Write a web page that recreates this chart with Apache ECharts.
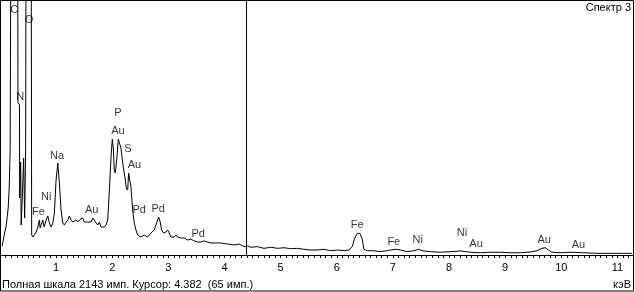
<!DOCTYPE html>
<html><head><meta charset="utf-8">
<script src="https://cdn.jsdelivr.net/npm/echarts@6/dist/echarts.min.js"></script>
<style>html,body{margin:0;padding:0;background:#fff;overflow:hidden}#c{width:700px;height:292px}</style>
</head><body><div id="c"></div>
<script>
// Spectrum: energy (keV) and counts (imp.)
const energyKeV = [0.039,0.075,0.110,0.146,0.164,0.181,0.199,0.253,0.315,0.320,0.347,0.350,0.368,0.377,0.395,0.421,0.439,0.457,0.466,0.514,0.555,0.564,0.590,
0.608,0.644,0.674,0.702,0.715,0.745,0.763,0.786,0.822,0.852,0.880,0.911,0.941,0.969,0.999,1.030,1.058,1.088,1.119,1.147,1.177,1.207,1.236,1.266,1.296,1.325,1.355,1.385,1.414,1.444,1.474,1.503,1.533,1.563,1.592,1.622,1.652,1.681,1.711,1.741,1.770,1.800,1.830,1.858,1.889,1.919,
1.947,1.978,2.001,2.019,2.036,2.054,2.084,2.107,2.125,2.155,2.173,2.196,2.226,2.250,2.275,2.292,2.315,2.333,2.363,2.392,2.422,2.452,2.511,2.541,2.570,2.630,2.689,2.748,2.808,2.826,2.854,2.879,2.915,2.956,2.986,3.014,3.045,3.103,3.134,3.164,3.222,3.281,3.342,3.400,3.459,3.519,3.578,3.637,3.697,3.756,3.815,3.934,4.053,4.170,4.259,4.289,4.348,4.409,4.467,4.586,4.704,4.823,4.942,5.060,5.179,5.298,5.415,5.534,5.653,5.771,5.890,6.009,6.127,6.215,6.276,6.317,6.365,6.411,6.454,6.482,6.543,6.660,6.779,6.898,6.957,7.046,7.135,7.254,7.371,7.460,7.521,7.668,7.846,8.024,8.202,8.380,8.557,8.736,8.913,9.091,9.269,9.447,9.566,9.655,9.714,9.772,9.833,9.980,10.158,10.395,10.633,10.870,11.107,11.255];
const counts = [76,168,244,395,563,882,3500,9000,3000,1285,1260,479,781,252,462,815,311,882,3500,9000,3000,168,151,
168,193,235,294,227,235,294,235,294,328,269,235,269,353,630,773,605,378,269,252,277,294,328,294,277,269,294,277,294,286,311,277,269,277,277,277,311,294,269,252,277,235,235,235,252,294,
529,823,974,899,714,689,823,974,958,899,823,739,655,563,546,689,689,571,378,269,210,168,151,143,168,151,185,210,294,319,277,210,185,193,210,185,151,151,168,151,143,143,126,134,118,109,109,118,109,101,101,101,92,84,92,84,70,76,65,70,56,65,56,61,53,56,48,42,42,48,36,42,36,42,70,140,182,182,134,48,36,36,28,36,42,48,42,28,36,48,36,28,23,28,34,23,19,23,23,19,19,25,36,56,61,42,23,19,23,19,14,14,14,14];

// Element line labels
const labelNames = ["C","O","N","Fe","Ni","Na","Au","P","Au","S","Au","Pd","Pd","Pd","Fe","Fe","Ni","Ni","Au","Au","Au"];
const labelKeV   = [0.253,0.519,0.359,0.685,0.822,1.017,1.634,2.102,2.102,2.280,2.395,2.481,2.819,3.530,6.365,7.016,7.443,8.232,8.481,9.696,10.306];
const labelCounts= [2058,1974,1327,361,487,832,378,1193,1042,890,756,378,386,176,252,113,126,185,92,126,88];

const fullScale = 2143;
const cursorKeV = 4.382;
const cursorCounts = 65;
const spectrumTitle = "Спектр 3";
const unitLabel = "кэВ";

const FONT = '"Liberation Sans", Arial, sans-serif';
const chart = echarts.init(document.getElementById('c'), null, {renderer:'canvas'});
chart.setOption({
  animation:false,
  grid:{left:-1.2, top:0, width:12*56.23, height:255, containLabel:false},
  xAxis:{type:'value', min:0, max:12, interval:1,
    axisLine:{show:true, onZero:false, lineStyle:{color:'#000', width:1}},
    axisTick:{show:true, length:3, lineStyle:{color:'#000'}},
    minorTick:{show:true, splitNumber:10, length:3, lineStyle:{color:'#000'}},
    splitLine:{show:false}, minorSplitLine:{show:false},
    axisLabel:{color:'#000', fontSize:11, fontFamily:FONT, margin:7, showMinLabel:false, showMaxLabel:false}
  },
  yAxis:{type:'value', min:0, max:fullScale, show:false},
  series:[
    {type:'line', data:energyKeV.map((e,i)=>[e,counts[i]]), symbol:'none', clip:true,
     lineStyle:{color:'#000', width:1}, silent:true,
     markLine:{silent:true, symbol:'none', label:{show:false}, animation:false,
       lineStyle:{color:'#000', width:1, type:'solid'}, data:[{xAxis:cursorKeV}]}},
    {type:'scatter', data:labelKeV.map((e,i)=>[e,labelCounts[i],labelNames[i]]), symbolSize:0, clip:false, silent:true, z:5,
     label:{show:true, position:'inside', color:'#000', fontSize:11, fontFamily:FONT, formatter:p=>p.data[2]}}
  ],
  graphic:[
    {type:'rect', shape:{x:0.5,y:0.5,width:633,height:290.5}, style:{fill:'#fff', stroke:null}, z:-10, silent:true},
    {type:'rect', shape:{x:633.5,y:0,width:70,height:292}, style:{fill:'#fff'}, z:99, silent:true},
    {type:'rect', shape:{x:0.5,y:0.5,width:633,height:290.5}, style:{fill:null, stroke:'#000', lineWidth:1}, z:100, silent:true},
    {type:'text', x:631, y:8, style:{text:spectrumTitle, fill:'#000', font:'11px '+FONT, textAlign:'right', textVerticalAlign:'middle'}},
    {type:'text', x:631, y:284.5, style:{text:unitLabel, fill:'#000', font:'11px '+FONT, textAlign:'right', textVerticalAlign:'middle'}},
    {type:'text', x:2, y:284.5, style:{text:'Полная шкала '+fullScale+' имп. Курсор: '+cursorKeV.toFixed(3)+'  ('+cursorCounts+' имп.)', fill:'#000', font:'11px '+FONT, textAlign:'left', textVerticalAlign:'middle'}}
  ]
});
</script></body></html>
